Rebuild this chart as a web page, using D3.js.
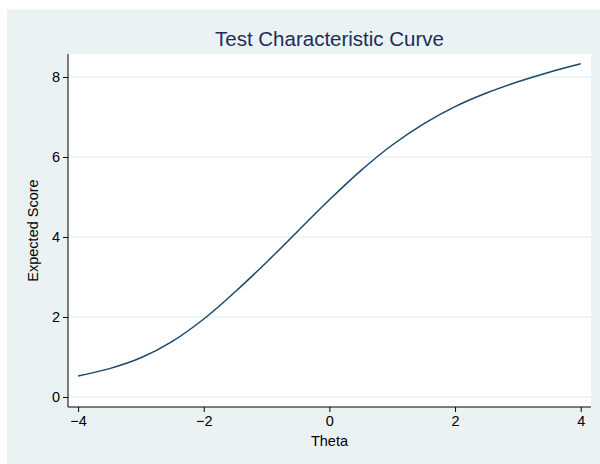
<!DOCTYPE html>
<html>
<head>
<meta charset="utf-8">
<script src="https://cdn.jsdelivr.net/npm/d3@7"></script>
<style>
  body { margin: 0; background: #fff; }
  text { font-family: "Liberation Sans", Arial, sans-serif; }
</style>
</head>
<body>
<div id="chart"></div>
<script>
// theta values and expected score
var theta = [-4, -3.5, -3, -2.5, -2, -1.5, -1, -0.5, 0, 0.5, 1, 1.5, 2, 2.5, 3, 3.5, 4]
var score = [0.525, 0.71, 0.98, 1.39, 1.95, 2.63, 3.37, 4.15, 4.93, 5.66, 6.30, 6.83, 7.26, 7.60, 7.88, 8.12, 8.33]
var xTicks = [-4, -2, 0, 2, 4]
var yTicks = [0, 2, 4, 6, 8]

var width = 600
var height = 464
var plot = { left: 68, right: 591, top: 54, bottom: 407 }

var svg = d3.select("#chart")
    .append("svg")
    .attr("width", width)
    .attr("height", height)

// graph region
svg.append("rect")
    .attr("x", 7).attr("y", 9.5)
    .attr("width", width - 7).attr("height", height - 9.5)
    .attr("fill", "#eaf2f3")

svg.append("rect")
    .attr("x", plot.left).attr("y", plot.top)
    .attr("width", plot.right - plot.left).attr("height", plot.bottom - plot.top)
    .attr("fill", "#fff")

var xScale = d3.scaleLinear().domain([-4, 4]).range([78.1, 580.7])
var yScale = d3.scaleLinear().domain([0, 8]).range([397, 77])

// gridlines
svg.append("g")
    .selectAll("line")
    .data(yTicks)
    .enter()
    .append("line")
    .attr("x1", plot.left).attr("x2", plot.right)
    .attr("y1", d => yScale(d)).attr("y2", d => yScale(d))
    .attr("stroke", "#eaf2f3")
    .attr("stroke-width", 1.3)

var fmt = d => d < 0 ? "\u2212" + Math.abs(d) : "" + d

var xaxis = d3.axisBottom(xScale).tickValues(xTicks).tickSize(5).tickPadding(4).tickFormat(fmt)
var yaxis = d3.axisLeft(yScale).tickValues(yTicks).tickSize(5).tickPadding(3).tickFormat(fmt)

var gx = svg.append("g")
    .attr("transform", "translate(0, " + plot.bottom + ")")
    .call(xaxis)
gx.select(".domain").attr("d", "M" + plot.left + ",0H" + plot.right)

var gy = svg.append("g")
    .attr("transform", "translate(" + plot.left + ", 0)")
    .call(yaxis)
gy.select(".domain").attr("d", "M0," + plot.top + "V" + plot.bottom)

svg.selectAll(".tick text")
    .attr("font-size", "14.5px")
    .attr("fill", "#000")
    .style("font-family", "'Liberation Sans', Arial, sans-serif")
svg.selectAll(".domain, .tick line").attr("stroke", "#000")

// curve
var line = d3.line()
    .x((d, i) => xScale(theta[i]))
    .y(d => yScale(d))
    .curve(d3.curveCatmullRom.alpha(0.5))

svg.append("path")
    .datum(score)
    .attr("d", line)
    .attr("fill", "none")
    .attr("stroke", "#1a476f")
    .attr("stroke-width", 1.5)

// titles
svg.append("text")
    .attr("x", (plot.left + plot.right) / 2)
    .attr("y", 46)
    .attr("text-anchor", "middle")
    .attr("font-size", "20.5px")
    .attr("fill", "#1e2d53")
    .text("Test Characteristic Curve")

svg.append("text")
    .attr("x", (plot.left + plot.right) / 2)
    .attr("y", 446)
    .attr("text-anchor", "middle")
    .attr("font-size", "14.5px")
    .attr("fill", "#000")
    .text("Theta")

svg.append("text")
    .attr("transform", "translate(38, " + (plot.top + plot.bottom) / 2 + ") rotate(-90)")
    .attr("text-anchor", "middle")
    .attr("font-size", "14.5px")
    .attr("fill", "#000")
    .text("Expected Score")
</script>
</body>
</html>
